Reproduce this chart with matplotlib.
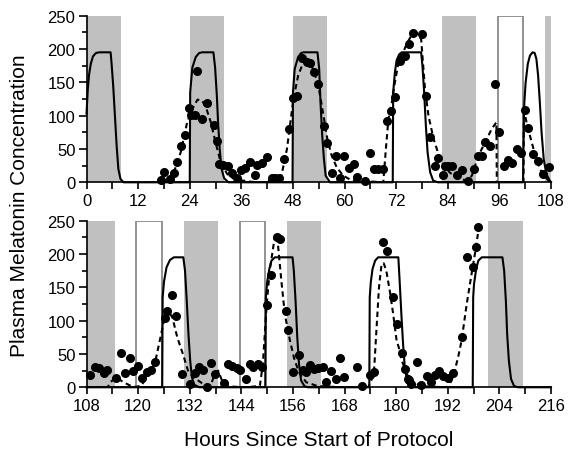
import numpy as np
import matplotlib
matplotlib.use("Agg")
import matplotlib.pyplot as plt
from matplotlib.patches import Rectangle
from matplotlib.ticker import MultipleLocator

plt.rcParams['font.family'] = ['Liberation Sans', 'DejaVu Sans']

# dark (sleep) episodes and bright-light boxes, hours
dark_start = [0, 24, 48, 82.6, 106.6, 130.6, 154.6, 201.4]
dark_end = [8, 32, 56, 90.6, 114.6, 138.6, 162.6, 209.4]
light_start = [95.6, 119.6, 143.6]
light_end = [101.6, 125.6, 149.6]

# measured melatonin samples
top_hours = [17.4, 18.1, 19.4, 20.3, 21.0, 22.0, 23.0, 23.9, 24.4, 25.2, 25.8, 26.9, 28.0,
             29.6, 30.3, 30.8, 31.8, 32.8, 33.9, 34.9, 35.9, 36.9, 38.0, 39.2, 39.6, 40.9,
             42.0, 43.1, 43.9, 44.8, 45.8, 47.0, 48.1, 49.0, 50.0, 51.2, 52.0, 52.9, 53.8,
             55.1, 56.0, 57.0, 57.9, 58.9, 59.9, 61.1, 62.3, 62.8, 64.7, 65.9, 66.8, 67.8,
             68.9, 69.8, 70.8, 71.8, 72.9, 73.4, 74.1, 75.0, 76.0, 77.9, 78.9, 79.9, 81.0,
             81.8, 83.0, 83.4, 84.1, 85.0, 86.1, 87.2, 88.6, 90.1, 91.1, 92.0, 92.7, 93.7,
             94.9, 96.0, 97.1, 98.1, 98.9, 100.0, 101.0, 102.0, 102.7, 103.9, 105.0, 106.2,
             107.6]
top_conc = [4, 16, 5, 14, 31, 54, 71, 111.5, 100.5, 100.5, 166.5, 95, 119,
            86, 62, 27, 26.5, 25, 13.5, 7, 18.5, 21, 30, 11, 26, 29.5,
            38.5, 6.5, 6, 6.5, 35.5, 80.5, 127, 129, 186, 180.5, 179, 165, 147,
            84, 59, 14, 40, 6.5, 39, 21.5, 27.5, 7.5, 2.5, 43.5, 19.5, 19.5,
            19.5, 92.5, 106.5, 127.5, 181.5, 187.5, 190, 207.5, 224, 222.5, 129, 67.5, 25,
            36.5, 11.5, 25, 25, 25, 11.5, 19, 2.5, 20, 40, 40, 60, 55,
            148, 76, 25, 34, 28.5, 50, 44, 109, 81.5, 42.5, 32.5, 12.5,
            23.5]
bot_hours = [108.8, 109.9, 110.9, 112.1, 112.8, 114.8, 116.0, 117.0, 118.0, 118.9, 120.0,
             121.0, 122.0, 122.9, 123.9, 126.3, 126.8, 127.9, 128.7, 130.3, 132.1, 133.3,
             134.2, 135.1, 136.1, 136.9, 137.8, 139.9, 141.0, 141.9, 142.9, 143.8, 145.1,
             145.9, 146.8, 147.9, 148.9, 149.9, 150.8, 152.2, 153.0, 154.3, 154.9, 155.9,
             157.5, 158.3, 159.1, 159.9, 160.9, 161.9, 162.9, 163.7, 164.8, 165.9, 166.9,
             167.9, 170.9, 172.0, 174.0, 174.9, 176.9, 177.9, 179.2, 180.2, 181.3, 182.1,
             182.7, 183.0, 183.4, 184.9, 185.8, 187.1, 188.1, 189.0, 190.0, 191.0, 192.1,
             193.1, 195.4, 196.4, 197.8, 198.5, 199.0]
bot_conc = [18.5, 30, 28.5, 21.5, 26.5, 13.5, 51, 21.5, 44, 24, 31.5,
            13.5, 23.5, 26, 38.5, 104, 115, 138.5, 106.5, 19.5, 5, 21,
            30, 26, 1, 36.5, 20, 6.5, 35, 31.5, 28.5, 26.5, 12,
            35, 31, 35, 30, 123, 169, 225, 223, 115, 86, 23,
            48, 25.5, 23, 34, 27.5, 29, 30, 8.5, 25, 12.5, 44,
            16, 30, 2.5, 19, 23, 217.5, 204, 135, 95.5, 51, 27.5,
            12.5, 11, 5, 38, 4, 16.5, 7.5, 19, 25, 17.5, 14,
            21.5, 75, 195, 181, 211, 241]

# model-predicted melatonin (solid line)
model_top_t = [0, 0.3, 0.6, 1.0, 1.5, 2.2, 3.0, 5.6, 5.8, 6.2, 6.6, 7.0, 7.4, 7.9, 8.6,
               24.0, 24.1, 24.6, 25.4, 26.2, 26.9, 29.5, 29.9, 30.3, 30.6, 31.0, 31.4, 32.0, 33.0,
               47.9, 48.0, 48.4, 49.2, 49.9, 50.5, 53.7, 54.1, 54.4, 54.8, 55.2, 55.6, 56.6,
               71.2, 71.3, 71.7, 72.1, 72.7, 73.3, 77.8, 78.1, 78.5, 78.9, 79.3, 79.9, 80.6, 81.7,
               101.5, 101.7, 101.8, 102.1, 102.6, 103.1, 103.7, 104.2, 104.6, 105.0, 105.4,
               105.8, 106.3, 106.9, 107.7, 108.0]
model_top_c = [103, 140, 162, 178, 189, 194, 195, 195, 180, 145, 100, 55, 20, 5, 0,
               0, 135, 172, 188, 194, 195, 195, 172, 130, 88, 47, 20, 6, 0,
               0, 135, 170, 188, 194, 195, 195, 170, 120, 70, 35, 10, 0,
               0, 135, 165, 183, 192, 195, 195, 175, 135, 85, 45, 15, 2.5, 0,
               0, 100, 120, 150, 177.5, 190, 195, 194, 185, 160, 120,
               75, 35, 12.5, 2.5, 0.5]
model_bot_t = [108.0, 125.6, 125.7, 126.0, 126.6, 127.4, 128.3, 130.5, 130.9, 131.3, 131.7, 132.1,
               132.5, 133.0, 134.2,
               149.6, 149.7, 150.0, 150.5, 151.0, 151.8, 155.9, 156.2, 156.6, 157.0, 157.4,
               157.9, 158.7, 159.5,
               173.75, 173.85, 174.1, 174.5, 175.1, 175.8, 180.5, 180.8, 181.2, 181.6, 182.0,
               182.6, 183.5, 184.5,
               197.8, 197.9, 198.1, 198.6, 199.1, 199.9, 204.7, 205.1, 205.5, 205.8, 206.2,
               206.7, 207.4, 208.3, 216.0]
model_bot_c = [0, 0, 135, 158, 180, 191, 195, 195, 175, 130, 80, 40,
               15, 4, 0,
               0, 135, 158, 177.5, 190, 195, 195, 175, 130, 75, 35,
               10, 1.5, 0,
               0, 135, 158, 177.5, 190, 195, 195, 160, 110, 65, 30,
               7.5, 1, 0,
               0, 135, 155, 177.5, 190, 195, 195, 175, 130, 80, 40,
               12.5, 2, 0, 0]

# fitted curve through samples (dashed line)
fit_top_t = [17.0, 18.8, 20.3, 21.9, 23.4, 24.6, 25.8, 26.9, 27.9, 28.9, 30.0, 31.2, 32.7, 34.3,
             36.0, 38.0, 40.0, 42.2, 43.0, 44.0, 44.8, 45.3, 45.8, 46.6, 47.3, 48.1, 49.2, 50.4,
             51.5, 52.7, 53.9, 55.1, 56.0, 57.0, 58.2, 59.7, 61.3, 62.8, 66.7, 69.0, 69.6, 70.2,
             71.0, 71.7, 72.4, 73.3, 74.4, 75.5, 76.7, 77.8, 78.7, 79.5, 80.7, 81.7, 82.9, 84.4,
             86.1, 88.4, 89.6, 91.1, 92.7, 94.2, 95.3, 95.4, 101.6, 101.7, 102.3, 103.5, 104.6,
             105.8, 107.4, 108.0]
fit_top_c = [0, 2.5, 15, 45, 90, 110, 124, 122.5, 110, 90, 60, 30, 12.5, 5,
             3, 1, 0, 0, 8, 10, 3, 10, 25, 50, 85, 125, 160, 180,
             181, 170, 145, 100, 65, 40, 22, 10, 4, 2, 1, 0, 50, 95,
             120, 150, 175, 190, 207, 220, 224, 215, 140, 100, 65, 45, 27, 15,
             6.5, 2.5, 10, 40, 60, 80, 90, 0, 0, 110, 90, 60, 35,
             15, 2.5, 0]
fit_bot_t = [108.0, 112.9, 113.6, 114.9, 116.5, 118.0, 119.5, 120.8, 121.5, 122.6, 123.4, 124.2,
             125.2, 126.0, 126.9, 127.95, 129.1, 130.4, 131.6, 132.8, 134.0, 135.1, 136.3, 137.0,
             137.8, 138.6, 139.5, 140.5, 142.0, 145.0, 148.3, 149.0, 149.9, 150.6, 151.4, 151.9,
             152.5, 153.3, 154.1, 155.3, 156.4, 157.6, 159.1, 161.4, 163.7, 168.0, 173.5, 174.2,
             174.9, 175.4, 176.0, 176.6, 177.1, 177.7, 178.5, 179.3, 180.1, 180.6, 181.3, 182.5,
             183.6, 185.5, 187.5, 192.1, 193.2, 194.4, 195.2, 196.4, 197.4, 198.3, 199.0]
fit_bot_c = [0, 0, 8, 15, 8, 3, 0.5, 3, 10, 20, 30, 45,
             75, 100, 115, 105, 75, 50, 25, 15, 10, 5, 1, 5,
             20, 25, 10, 3, 1, 0, 2, 35, 125, 175, 210, 230,
             215, 160, 110, 70, 40, 20, 7.5, 2.5, 1, 0, 0, 10,
             30, 85, 150, 185, 186, 175, 145, 110, 70, 60, 40, 20,
             10, 2.5, 1, 0, 15, 45, 70, 125, 165, 200, 230]

fig = plt.figure(figsize=(5.7, 4.56), dpi=100)
ax1 = fig.add_axes([0.1518, 0.598, 0.8149, 0.3655])
ax2 = fig.add_axes([0.1518, 0.1485, 0.8149, 0.3654])

panels = [
    (ax1, 0, 108, top_hours, top_conc, model_top_t, model_top_c, fit_top_t, fit_top_c),
    (ax2, 108, 216, bot_hours, bot_conc, model_bot_t, model_bot_c, fit_bot_t, fit_bot_c),
]

for ax, x0, x1, hx, hy, mt, mc, ft, fc in panels:
    for s, e in zip(dark_start, dark_end):
        s2, e2 = max(s, x0), min(e, x1)
        if e2 > s2:
            ax.add_patch(Rectangle((s2, 0), e2 - s2, 250, facecolor='#c0c0c0',
                                   edgecolor='none', zorder=1))
    for s, e in zip(light_start, light_end):
        if x0 <= s < x1:
            ax.add_patch(Rectangle((s, 0), e - s, 250, facecolor='white',
                                   edgecolor='#8a8a8a', lw=1.3, zorder=1))
    ax.plot(mt, mc, color='black', lw=1.5, zorder=3, clip_on=False)
    ax.plot(ft, fc, color='black', lw=1.5, ls=(0, (2.6, 1.8)), zorder=3)
    ax.plot(hx, hy, 'o', color='black', ms=5.5, zorder=4, clip_on=False)

    ax.set_xlim(x0, x1)
    ax.set_ylim(0, 250)
    ax.xaxis.set_major_locator(MultipleLocator(12))
    ax.xaxis.set_minor_locator(MultipleLocator(6))
    ax.yaxis.set_major_locator(MultipleLocator(50))
    ax.yaxis.set_minor_locator(MultipleLocator(25))
    ax.spines['top'].set_visible(False)
    ax.spines['right'].set_visible(False)
    ax.spines['left'].set_linewidth(1.2)
    ax.spines['bottom'].set_linewidth(1.2)
    ax.spines['left'].set_zorder(5)
    ax.spines['bottom'].set_zorder(5)
    ax.tick_params(axis='both', which='both', direction='out', width=1.2, labelsize=12,
                   colors='black')
    ax.tick_params(axis='x', which='major', length=5, pad=3)
    ax.tick_params(axis='x', which='minor', length=5)
    ax.tick_params(axis='y', which='major', length=6, pad=2)
    ax.tick_params(axis='y', which='minor', length=3.5)
    ax.patch.set_visible(False)

fig.text(0.035, 0.55, 'Plasma Melatonin Concentration', rotation=90,
         ha='center', va='center', fontsize=15)
fig.text(0.559, 0.033, 'Hours Since Start of Protocol', ha='center', va='center', fontsize=15)

fig.savefig('out.png', dpi=100)
